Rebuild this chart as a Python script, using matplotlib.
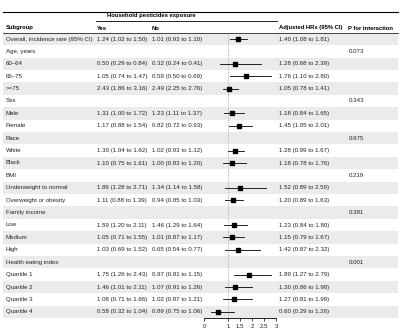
import matplotlib
matplotlib.use('Agg')
import matplotlib.pyplot as plt
from matplotlib import font_manager

# rows of the table (None = group heading row)
subgroups = ["Overall, incidence rate (95% CI)", "Age, years", "60\u201364", "65\u201375", ">=75",
             "Sex", "Male", "Female", "Race", "White", "Black",
             "BMI", "Underweight to normal", "Overweight or obesity",
             "Family income", "Low", "Medium", "High",
             "Health eating index", "Quartile 1", "Quartile 2", "Quartile 3", "Quartile 4"]

yes_rate = ["1.24 (1.02 to 1.50)", None, "0.50 (0.29 to 0.84)", "1.05 (0.74 to 1.47)", "2.43 (1.86 to 3.16)",
            None, "1.31 (1.00 to 1.72)", "1.17 (0.88 to 1.54)", None, "1.30 (1.04 to 1.62)", "1.10 (0.75 to 1.61)",
            None, "1.86 (1.28 to 2.71)", "1.11 (0.88 to 1.39)",
            None, "1.59 (1.20 to 2.11)", "1.05 (0.71 to 1.55)", "1.03 (0.69 to 1.52)",
            None, "1.75 (1.26 to 2.43)", "1.46 (1.01 to 2.11)", "1.08 (0.71 to 1.66)", "0.58 (0.32 to 1.04)"]

no_rate = ["1.01 (0.93 to 1.10)", None, "0.32 (0.24 to 0.41)", "0.59 (0.50 to 0.69)", "2.49 (2.25 to 2.76)",
           None, "1.23 (1.11 to 1.37)", "0.82 (0.72 to 0.93)", None, "1.02 (0.93 to 1.12)", "1.00 (0.83 to 1.20)",
           None, "1.34 (1.14 to 1.58)", "0.94 (0.85 to 1.03)",
           None, "1.46 (1.29 to 1.64)", "1.01 (0.87 to 1.17)", "0.65 (0.54 to 0.77)",
           None, "0.97 (0.81 to 1.15)", "1.07 (0.91 to 1.26)", "1.02 (0.87 to 1.21)", "0.89 (0.75 to 1.06)"]

hr = [1.40, None, 1.28, 1.76, 1.05, None, 1.18, 1.45, None, 1.28, 1.18,
      None, 1.52, 1.20, None, 1.23, 1.15, 1.42, None, 1.89, 1.30, 1.27, 0.60]
hr_lo = [1.08, None, 0.68, 1.10, 0.78, None, 0.84, 1.05, None, 0.99, 0.78,
         None, 0.89, 0.89, None, 0.84, 0.79, 0.87, None, 1.27, 0.86, 0.81, 0.29]
hr_hi = [1.81, None, 2.39, 2.80, 1.41, None, 1.65, 2.01, None, 1.67, 1.76,
         None, 2.59, 1.63, None, 1.80, 1.67, 2.32, None, 2.79, 1.98, 1.99, 1.26]

p_inter = [None, "0.073", None, None, None, "0.343", None, None, "0.975", None, None,
           "0.219", None, None, "0.381", None, None, None, "0.001", None, None, None, None]

xticks = [0, 1, 1.5, 2, 2.5, 3]

fams = [f.name for f in font_manager.fontManager.ttflist]
if 'Liberation Sans Narrow' in fams:
    plt.rcParams['font.family'] = ['Liberation Sans Narrow', 'DejaVu Sans']
    fs, fsb = 5.2, 5.2
else:
    plt.rcParams['font.family'] = ['Liberation Sans', 'DejaVu Sans']
    fs, fsb = 4.45, 4.25

W, H = 405, 334
row0, step = 39, 12.4
tcol = '#222222'

fig = plt.figure(figsize=(W / 100, H / 100), dpi=100)

# table area in pixel units
ax = fig.add_axes([0, 0, 1, 1])
ax.set_xlim(0, W)
ax.set_ylim(H, 0)
ax.axis('off')

n = len(subgroups)
for i in range(n):
    y = row0 + i * step
    if i % 2 == 0:
        ax.axhspan(y - step / 2, y + step / 2, xmin=3 / W, xmax=398 / W, color='#ebebeb', lw=0, zorder=0)
    ax.text(6, y, subgroups[i], fontsize=fs, va='center', color=tcol)
    if yes_rate[i]:
        ax.text(97, y, yes_rate[i], fontsize=fs, va='center', color=tcol)
    if no_rate[i]:
        ax.text(152, y, no_rate[i], fontsize=fs, va='center', color=tcol)
    if hr[i] is not None:
        ax.text(279, y, "{:.2f} ({:.2f} to {:.2f})".format(hr[i], hr_lo[i], hr_hi[i]),
                fontsize=fs, va='center', color=tcol)
    if p_inter[i]:
        ax.text(349, y, p_inter[i], fontsize=fs, va='center', color=tcol)

# header
ax.plot([3, 398], [12, 12], color='black', lw=0.8)
ax.text(151, 15.5, "Household pesticides exposure", fontsize=fsb, fontweight='bold', ha='center', va='center')
ax.plot([96, 277], [20.5, 20.5], color='black', lw=0.6)
ax.text(6, 28, "Subgroup", fontsize=fsb, fontweight='bold', va='center')
ax.text(97, 28, "Yes", fontsize=fsb, fontweight='bold', va='center')
ax.text(152, 28, "No", fontsize=fsb, fontweight='bold', va='center')
ax.text(279, 28, "Adjusted HRs (95% CI)", fontsize=fsb, fontweight='bold', va='center')
ax.text(348, 28, "P for interaction", fontsize=fsb, fontweight='bold', va='center')
ax.plot([3, 398], [33, 33], color='black', lw=0.5)

# forest plot
x0, x1 = 204, 276
ytop = row0 - step / 2
ybot = row0 + (n - 0.5) * step
fa = fig.add_axes([x0 / W, (H - ybot) / H, (x1 - x0) / W, (ybot - ytop) / H])
fa.patch.set_alpha(0)
fa.set_xlim(0, 3)
fa.set_ylim(n - 0.5, -0.5)
for s in ['top', 'right', 'left']:
    fa.spines[s].set_visible(False)
fa.spines['bottom'].set_linewidth(0.6)
fa.set_yticks([])
fa.set_xticks(xticks)
fa.set_xticklabels(['0', '1', '1.5', '2', '2.5', '3'], fontsize=fs)
fa.tick_params(axis='x', length=2.5, width=0.6, pad=2, colors=tcol)
fa.axvline(1, color='#aaaaaa', lw=0.6, ls=(0, (1.5, 1.5)), zorder=1)
for i in range(n):
    if hr[i] is None:
        continue
    fa.plot([hr_lo[i], hr_hi[i]], [i, i], color='black', lw=0.6, zorder=2)
    fa.plot(hr[i], i, marker='s', color='black', ms=3.4, zorder=3)

plt.savefig('out.png', dpi=100)
plt.close()
